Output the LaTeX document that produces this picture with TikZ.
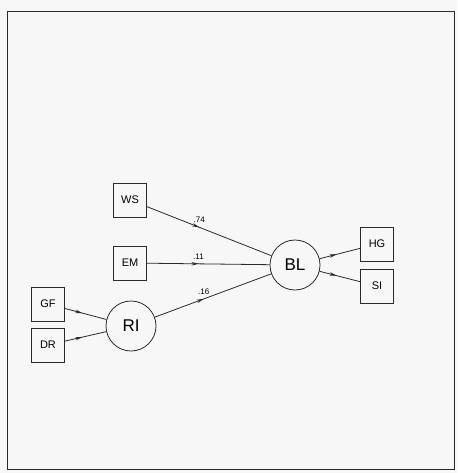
\documentclass[tikz,border=0pt]{standalone}
\usepackage{fontspec}
\setmainfont{Liberation Sans}
\usetikzlibrary{arrows.meta,decorations.markings}
\definecolor{paper}{HTML}{F7F7F7}
\definecolor{ink}{HTML}{2A2A2A}
\tikzset{
  obs/.style={rectangle, draw=ink, thick, minimum width=33pt, minimum height=34pt, inner sep=0pt, font=\fontsize{11}{11}\selectfont},
  lat/.style={circle, draw=ink, thick, minimum size=50pt, inner sep=0pt, font=\fontsize{17}{17}\selectfont},
  path/.style={draw=ink, thick, postaction={decorate},
    decoration={markings, mark=at position 0.42 with {\arrow{Stealth[length=7pt,width=3.5pt]}}}},
  coef/.style={font=\fontsize{8}{8}\selectfont, above=1pt, pos=0.42}
}

\begin{document}
\begin{tikzpicture}[x=1pt, y=-1pt]
  \useasboundingbox[fill=paper] (0,0) rectangle (457,473);
  \draw[ink, thick] (7,11) rectangle (454,469);
  % predictors
  \node[obs] (WS) at (130,200) {WS};
  \node[obs] (EM) at (130,263) {EM};
  \node[obs] (GF) at (48,304) {GF};
  \node[obs] (DR) at (48,345) {DR};
  % latent variables
  \node[lat] (RI) at (131,326) {RI};
  \node[lat] (BL) at (295,265) {BL};
  % indicators
  \node[obs] (HG) at (377,244) {HG};
  \node[obs] (SI) at (377,286) {SI};
  % paths
  \draw[path] (WS) -- node[coef] {.74} (BL);
  \draw[path] (EM) -- node[coef] {.11} (BL);
  \draw[path] (RI) -- node[coef] {.16} (BL);
  \draw[path] (GF) -- (RI);
  \draw[path] (DR) -- (RI);
  \draw[path] (BL) -- (HG);
  \draw[path] (BL) -- (SI);
\end{tikzpicture}
\end{document}
